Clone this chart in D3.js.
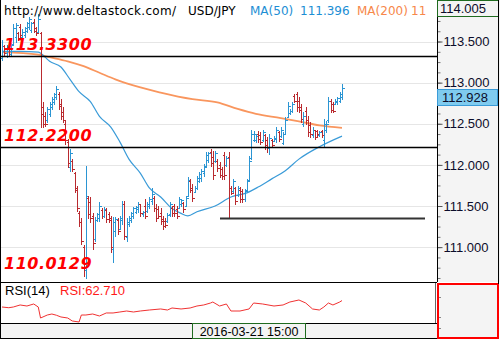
<!DOCTYPE html>
<html>
<head>
<meta charset="utf-8">
<script src="https://cdn.jsdelivr.net/npm/d3@7"></script>
<style>
  body { margin: 0; background: #fff; }
  svg { display: block; }
</style>
</head>
<body>
<svg id="chart" width="500" height="340"></svg>
<script>
// USD/JPY bars, [open, high, low, close]
const ohlc = [
  [113.30,113.52,113.28,113.45],[113.45,113.46,113.34,113.36],[113.36,113.46,113.31,113.43],[113.43,113.45,113.33,113.35],
  [113.35,113.48,113.34,113.46],[113.47,113.71,113.46,113.66],[113.55,113.73,113.50,113.70],[113.60,113.62,113.52,113.54],
  [113.68,113.71,113.56,113.58],[113.55,113.65,113.52,113.62],[113.58,113.68,113.55,113.66],[113.63,113.74,113.61,113.72],
  [113.68,113.80,113.65,113.77],[113.64,113.74,113.62,113.72],[113.74,113.77,113.61,113.63],[113.66,113.68,113.58,113.60],
  [113.62,113.83,113.61,113.78],[113.60,113.62,112.46,112.62],[112.70,112.76,112.46,112.50],[112.60,112.64,112.47,112.50],
  [112.54,112.71,112.52,112.68],[112.62,112.76,112.59,112.74],[112.70,112.82,112.68,112.80],[112.76,112.88,112.74,112.86],
  [112.82,112.96,112.80,112.92],[112.86,112.89,112.68,112.72],[112.74,112.80,112.56,112.60],[112.64,112.70,112.52,112.54],
  [112.50,112.53,112.25,112.30],[112.28,112.31,111.97,112.02],[111.98,112.19,111.93,112.14],[112.05,112.07,111.93,111.95],
  [111.90,111.91,111.67,111.72],[111.70,111.74,111.44,111.48],[111.42,111.44,111.26,111.30],[111.30,111.35,111.04,111.08],
  [111.00,111.02,110.65,110.72],[110.72,111.99,110.62,111.62],[111.60,111.62,111.35,111.40],[111.55,111.61,111.31,111.36],
  [111.38,111.41,110.98,111.05],[111.10,111.37,111.08,111.33],[111.33,111.42,111.32,111.40],[111.35,111.55,111.32,111.50],
  [111.45,111.47,111.35,111.38],[111.38,111.49,111.37,111.46],[111.45,111.47,111.31,111.34],[111.40,111.43,111.31,111.33],
  [111.36,111.38,110.94,111.00],[110.98,111.37,110.82,111.30],[111.20,111.37,111.14,111.34],[111.33,111.35,111.16,111.20],
  [111.22,111.38,111.22,111.36],[111.33,111.56,111.28,111.52],[111.52,111.56,111.10,111.14],[111.12,111.35,111.07,111.30],
  [111.28,111.38,111.26,111.36],[111.33,111.43,111.31,111.41],[111.38,111.49,111.35,111.47],[111.43,111.50,111.41,111.49],
  [111.46,111.55,111.43,111.53],[111.52,111.53,111.38,111.41],[111.40,111.44,111.38,111.43],[111.50,111.59,111.35,111.38],
  [111.44,111.55,111.43,111.53],[111.50,111.61,111.47,111.59],[111.56,111.72,111.53,111.64],[111.60,111.62,111.44,111.47],
  [111.48,111.53,111.32,111.36],[111.46,111.50,111.35,111.38],[111.42,111.47,111.28,111.32],[111.34,111.38,111.22,111.26],
  [111.32,111.35,111.25,111.27],[111.32,111.41,111.31,111.39],[111.40,111.55,111.38,111.52],[111.48,111.50,111.38,111.41],
  [111.50,111.53,111.38,111.42],[111.46,111.50,111.35,111.38],[111.48,111.61,111.47,111.58],[111.52,111.59,111.50,111.57],
  [111.54,111.55,111.43,111.46],[111.50,111.62,111.50,111.60],[111.62,111.85,111.62,111.82],[111.80,111.83,111.67,111.70],
  [111.72,111.77,111.56,111.60],[111.67,111.74,111.67,111.72],[111.72,111.87,111.71,111.84],[111.80,111.91,111.79,111.89],
  [111.84,111.95,111.81,111.92],[111.90,112.01,111.87,111.98],[111.99,112.16,111.99,112.12],[112.06,112.16,112.04,112.14],
  [112.16,112.19,111.99,112.02],[112.10,112.17,111.83,111.88],[112.05,112.17,112.04,112.15],[112.05,112.07,111.93,111.96],
  [112.00,112.04,111.85,111.88],[111.95,111.97,111.83,111.86],[112.12,112.16,111.83,111.88],[112.00,112.11,111.99,112.08],
  [112.10,112.16,111.37,111.72],[111.72,111.74,111.65,111.66],[111.68,111.83,111.67,111.80],[111.72,111.73,111.53,111.56],
  [111.63,111.74,111.62,111.72],[111.70,111.73,111.55,111.58],[111.68,111.71,111.55,111.58],[111.58,111.71,111.56,111.68],
  [111.70,111.83,111.68,111.80],[111.82,112.11,111.81,112.05],[112.08,112.43,112.07,112.38],[112.30,112.41,112.29,112.38],
  [112.30,112.37,112.28,112.35],[112.38,112.41,112.28,112.31],[112.36,112.40,112.25,112.28],[112.30,112.43,112.29,112.40],
  [112.36,112.37,112.19,112.24],[112.30,112.34,112.16,112.20],[112.20,112.37,112.13,112.33],[112.30,112.31,112.22,112.24],
  [112.29,112.35,112.29,112.33],[112.32,112.46,112.28,112.42],[112.40,112.41,112.29,112.32],[112.35,112.46,112.34,112.43],
  [112.27,112.40,112.25,112.37],[112.38,112.58,112.37,112.55],[112.58,112.76,112.58,112.72],[112.63,112.68,112.62,112.66],
  [112.66,112.76,112.64,112.74],[112.84,112.86,112.76,112.78],[112.86,112.89,112.65,112.70],[112.78,112.83,112.64,112.67],
  [112.70,112.74,112.52,112.56],[112.50,112.64,112.47,112.60],[112.66,112.70,112.50,112.54],[112.55,112.59,112.35,112.40],
  [112.48,112.52,112.34,112.37],[112.36,112.46,112.34,112.43],[112.42,112.43,112.31,112.34],[112.41,112.43,112.35,112.37],
  [112.36,112.41,112.35,112.40],[112.41,112.43,112.34,112.36],[112.30,112.56,112.23,112.50],[112.42,112.53,112.40,112.50],
  [112.54,112.82,112.52,112.78],[112.78,112.80,112.64,112.67],[112.74,112.76,112.64,112.66],[112.74,112.80,112.74,112.78],
  [112.76,112.83,112.74,112.81],[112.78,112.89,112.76,112.86],[112.82,112.98,112.80,112.93]
];

// moving averages and RSI, [bar index, value]
const ma50 = [
  [0,113.38],[8,113.38],[16,113.37],[19,113.31],[21,113.26],[26,113.19],[30,113.04],[34,112.89],
  [39,112.77],[43,112.59],[48,112.46],[52,112.28],[56,112.07],[61,111.90],[65,111.72],[70,111.61],
  [75,111.47],[79,111.41],[82,111.38],[86,111.43],[94,111.50],[101,111.61],[108,111.66],[113,111.73],
  [119,111.83],[125,111.93],[131,112.07],[140,112.22],[150,112.35]
];
const ma200 = [
  [0,113.37],[16,113.34],[21,113.31],[29,113.26],[36,113.20],[43,113.12],[50,113.04],[55,112.99],
  [70,112.88],[84,112.80],[95,112.76],[104,112.68],[112,112.62],[123,112.57],[131,112.53],[140,112.48],[150,112.45]
];
const rsi = [
  [0,49.0],[3,47.5],[5,49.0],[8,53.3],[11,51.1],[14,55.4],[16,49.0],[17,25.6],[20,32.0],[22,34.1],[24,31.5],[26,27.8],
  [29,25.6],[31,19.3],[34,17.1],[35,32.0],[37,32.0],[40,34.1],[43,29.9],[46,36.3],[49,36.3],[52,38.4],
  [55,40.5],[58,38.4],[61,40.5],[65,42.6],[70,44.8],[73,42.6],[75,46.9],[79,44.8],[83,46.9],[86,51.1],
  [89,53.3],[92,57.5],[93,59.6],[96,51.1],[99,55.4],[101,40.5],[105,40.5],[109,44.8],[111,57.5],[115,55.4],
  [120,51.1],[124,53.3],[127,59.6],[131,63.9],[134,57.5],[137,44.8],[140,42.6],[142,49.0],[144,57.5],
  [146,53.3],[149,59.6],[150,62.7]
];

const priceTicks = [113.5, 113.0, 112.5, 112.0, 111.5, 111.0];
const levels = [113.33, 112.22];
const support = 111.36;
const levelLabels = [["113.3300", 113.33], ["112.2200", 112.22], ["110.0129", 110.66]];
const lastPrice = 112.928;
const topPrice = 114.005;
const timeLabel = "2016-03-21 15:00";

const svg = d3.select("#chart");
const W = 500, H = 340;
const axisX = 437;
const mainBottom = 282;

const x = d3.scaleLinear().domain([0, ohlc.length - 1]).range([2, 342]);
const y = d3.scaleLinear().domain([110.576, topPrice]).range([mainBottom, 0]);
const yr = d3.scaleLinear().domain([15, 100]).range([323, 283]);

const up = "#2b95d3", down = "#b92a2f";

// grid
svg.append("g").selectAll("line").data(priceTicks).join("line")
  .attr("x1", 0).attr("x2", axisX)
  .attr("y1", d => Math.round(y(d)) + 0.5).attr("y2", d => Math.round(y(d)) + 0.5)
  .attr("stroke", "#e6e6e6");

// moving averages
const maLine = d3.line().x(d => x(d[0])).y(d => y(d[1])).curve(d3.curveMonotoneX);
svg.append("path").attr("d", maLine(ma200)).attr("fill", "none")
  .attr("stroke", "#f9965e").attr("stroke-width", 1.8);
svg.append("path").attr("d", maLine(ma50)).attr("fill", "none")
  .attr("stroke", "#3a9bd8").attr("stroke-width", 1.2);

// OHLC bars
const bar = svg.append("g").selectAll("g").data(ohlc).join("g")
  .attr("stroke", d => d[3] >= d[0] ? up : down)
  .attr("stroke-width", 1);
bar.append("line")
  .attr("x1", (d, i) => Math.round(x(i)) + 0.5).attr("x2", (d, i) => Math.round(x(i)) + 0.5)
  .attr("y1", d => Math.round(y(d[1]))).attr("y2", d => Math.round(y(d[2])) + 1);
bar.append("line")
  .attr("x1", (d, i) => Math.round(x(i)) - 1).attr("x2", (d, i) => Math.round(x(i)))
  .attr("y1", d => Math.round(y(d[0])) + 0.5).attr("y2", d => Math.round(y(d[0])) + 0.5);
bar.append("line")
  .attr("x1", (d, i) => Math.round(x(i)) + 1).attr("x2", (d, i) => Math.round(x(i)) + 3)
  .attr("y1", d => Math.round(y(d[3])) + 0.5).attr("y2", d => Math.round(y(d[3])) + 0.5);

// level lines
svg.append("g").selectAll("line").data(levels).join("line")
  .attr("x1", 0).attr("x2", axisX)
  .attr("y1", d => Math.round(y(d)) + 0.5).attr("y2", d => Math.round(y(d)) + 0.5)
  .attr("stroke", "#000").attr("stroke-width", 1.3);
svg.append("line")
  .attr("x1", 220).attr("x2", 425)
  .attr("y1", Math.round(y(support)) + 0.5).attr("y2", Math.round(y(support)) + 0.5)
  .attr("stroke", "#333").attr("stroke-width", 2);

// red level labels
svg.append("g").selectAll("text").data(levelLabels).join("text")
  .attr("x", 4).attr("y", d => y(d[1]) - 6)
  .attr("font-family", "DejaVu Sans").attr("font-weight", "bold").attr("font-style", "italic")
  .attr("font-size", 16).attr("letter-spacing", 0.5)
  .attr("fill", "#ff0000")
  .text(d => d[0]);

// header (the MA(200) value is cut off by the price axis)
const header = svg.append("g").attr("font-family", "DejaVu Sans").attr("font-size", 12);
header.append("text").attr("x", 4).attr("y", 15).attr("fill", "#000").attr("textLength", 172).text("http://www.deltastock.com/");
header.append("text").attr("x", 188).attr("y", 15).attr("fill", "#000").text("USD/JPY");
header.append("text").attr("x", 250).attr("y", 15).attr("fill", "#1d8ed4").text("MA(50)");
header.append("text").attr("x", 300).attr("y", 15).attr("fill", "#1d8ed4").text("111.396");
header.append("text").attr("x", 357).attr("y", 15).attr("fill", "#f7874a").text("MA(200)");
header.append("text").attr("x", 411).attr("y", 15).attr("fill", "#f7874a").text("11");

// price axis panel
svg.append("rect").attr("x", axisX).attr("y", 0).attr("width", W - axisX).attr("height", mainBottom)
  .attr("fill", "#f4f4f4");
const minor = d3.range(110.625, 114.0, 0.125);
svg.append("g").attr("transform", `translate(${axisX + 0.5},0)`)
  .call(d3.axisRight(y).tickValues(minor).tickSize(3).tickFormat(""))
  .call(g => g.selectAll("line").attr("stroke", "#777"))
  .call(g => g.select(".domain").remove());
svg.append("g").attr("transform", `translate(${axisX + 0.5},0)`)
  .call(d3.axisRight(y).tickValues(priceTicks).tickSize(5).tickPadding(1).tickFormat(d3.format(".3f")))
  .call(g => g.selectAll("text").attr("font-family", "Liberation Sans").attr("font-size", 13).attr("fill", "#0c0c2a"))
  .call(g => g.selectAll("line").attr("stroke", "#555"))
  .call(g => g.select(".domain").remove());
svg.append("line").attr("x1", axisX + 0.5).attr("x2", axisX + 0.5).attr("y1", 0).attr("y2", mainBottom)
  .attr("stroke", "#000");

// top price box
svg.append("rect").attr("x", axisX + 0.5).attr("y", 0.5).attr("width", 61).attr("height", 16)
  .attr("fill", "#f4f4f4").attr("stroke", "#1f6b1f");
svg.append("text").attr("x", axisX + 3).attr("y", 13)
  .attr("font-family", "Liberation Sans").attr("font-size", 13).attr("fill", "#0c0c2a")
  .text(d3.format(".3f")(topPrice));

// last price box
svg.append("rect").attr("x", axisX + 0.5).attr("y", Math.round(y(lastPrice)) + 0.5).attr("width", 60).attr("height", 16)
  .attr("fill", "#7fcbef").attr("stroke", "#3a9bd8");
svg.append("text").attr("x", axisX + 5).attr("y", Math.round(y(lastPrice)) + 13)
  .attr("font-family", "Liberation Sans").attr("font-size", 13).attr("fill", "#0c0c2a")
  .text(d3.format(".3f")(lastPrice));

// main panel borders
svg.append("line").attr("x1", 0).attr("x2", axisX).attr("y1", mainBottom + 0.5).attr("y2", mainBottom + 0.5).attr("stroke", "#000");
svg.append("line").attr("x1", 0.5).attr("x2", 0.5).attr("y1", 0).attr("y2", 338).attr("stroke", "#000");

// RSI panel
svg.append("path").datum(rsi)
  .attr("d", d3.line().x(d => x(d[0])).y(d => yr(d[1])))
  .attr("fill", "none").attr("stroke", "#f03232").attr("stroke-width", 1);
svg.append("text").attr("x", 5).attr("y", 295)
  .attr("font-family", "Liberation Sans").attr("font-size", 13).attr("fill", "#000").text("RSI(14)");
svg.append("text").attr("x", 60).attr("y", 295)
  .attr("font-family", "Liberation Sans").attr("font-size", 13).attr("fill", "#ff1a1a")
  .text("RSI:" + d3.format(".3f")(rsi[rsi.length - 1][1] + 0.01));
svg.append("line").attr("x1", 0).attr("x2", axisX).attr("y1", 323.5).attr("y2", 323.5).attr("stroke", "#000");
svg.append("line").attr("x1", axisX - 1.5).attr("x2", axisX - 1.5).attr("y1", 283).attr("y2", 323).attr("stroke", "#666");

// RSI side box
svg.append("rect").attr("x", axisX + 1).attr("y", 284).attr("width", 60).attr("height", 54)
  .attr("fill", "#f4f4f4").attr("stroke", "#ff0000").attr("stroke-width", 2);
svg.append("g").selectAll("line").data([297, 317, 328]).join("line")
  .attr("x1", axisX + 2).attr("x2", axisX + 4).attr("y1", d => d + 0.5).attr("y2", d => d + 0.5)
  .attr("stroke", "#888");

// time axis
svg.append("rect").attr("x", 1).attr("y", 324).attr("width", axisX - 1).attr("height", 14).attr("fill", "#f4f4f4");
svg.append("line").attr("x1", 0).attr("x2", axisX).attr("y1", 338.5).attr("y2", 338.5).attr("stroke", "#000");
svg.append("rect").attr("x", 192.5).attr("y", 323.5).attr("width", 113).attr("height", 15)
  .attr("fill", "#f4f4f4").attr("stroke", "#1f6b1f");
svg.append("text").attr("x", 249).attr("y", 335.5).attr("text-anchor", "middle")
  .attr("font-family", "Liberation Sans").attr("font-size", 12.5).attr("fill", "#000")
  .text(timeLabel);

// outer right edge
svg.append("line").attr("x1", W - 1.5).attr("x2", W - 1.5).attr("y1", 0).attr("y2", 284).attr("stroke", "#000");
</script>
</body>
</html>
